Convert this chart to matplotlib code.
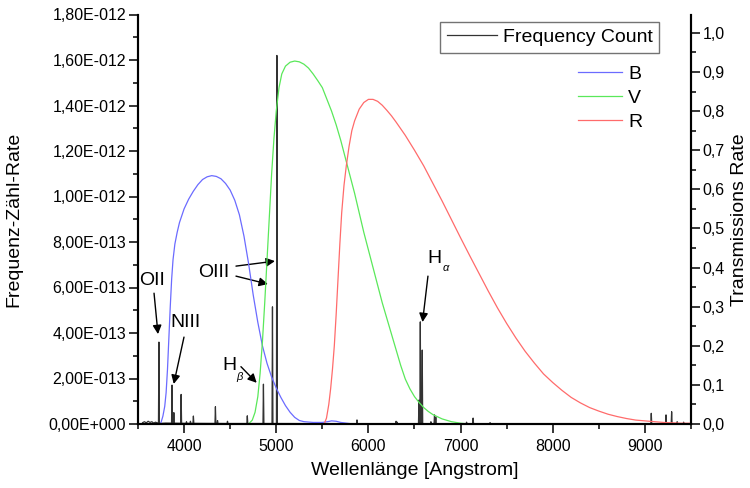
import numpy as np
import matplotlib
matplotlib.use('Agg')
import matplotlib.pyplot as plt
from matplotlib.ticker import MultipleLocator, FixedLocator, FuncFormatter

plt.rcParams['font.family'] = ['Liberation Sans', 'DejaVu Sans']

# emission lines of the spectrum (wavelength in Angstrom, peak in units of 1e-13)
line_wl = [3727, 3869, 3889, 3968, 4026, 4069, 4101, 4340, 4363, 4471, 4686,
           4861, 4959, 5007, 5876, 6300, 6312, 6548, 6563, 6584, 6678, 6717,
           6731, 7065, 7136, 7320, 9069, 9229, 9290, 9350, 9420]
line_peak = [3.6, 1.71, 0.5, 1.3, 0.1, 0.12, 0.35, 0.76, 0.15, 0.12, 0.36,
             1.75, 5.15, 16.2, 0.18, 0.12, 0.08, 1.05, 4.49, 3.25, 0.1, 0.4,
             0.3, 0.08, 0.26, 0.06, 0.47, 0.4, 0.54, 0.1, 0.08]

# continuum level between the lines (units of 1e-13)
cont_wl = [3550, 3570, 3590, 3610, 3630, 3650, 3670, 3690, 3710, 3760, 3800,
           4000, 4500, 5000, 5500, 6000, 6500, 7000, 7500, 8000, 8500, 9000, 9500]
cont_val = [0.06, 0.1, 0.05, 0.12, 0.07, 0.1, 0.04, 0.08, 0.05, 0.03, 0.04,
            0.03, 0.02, 0.02, 0.015, 0.015, 0.015, 0.01, 0.01, 0.01, 0.01, 0.01, 0.01]

# filter transmission curves
b_wl = [3745, 3770, 3790, 3805, 3820, 3835, 3850, 3865, 3880, 3900, 3925, 3950,
        4000, 4050, 4100, 4150, 4200, 4250, 4300, 4350, 4400, 4450, 4500, 4550,
        4600, 4650, 4700, 4750, 4800, 4850, 4900, 4950, 5000, 5050, 5100, 5150,
        5200, 5250, 5300, 5400, 5500, 5560, 5600, 5650, 5700, 5800, 5860]
b_t = [0.0, 0.02, 0.045, 0.08, 0.14, 0.22, 0.30, 0.37, 0.42, 0.46, 0.49, 0.515,
       0.55, 0.575, 0.595, 0.612, 0.625, 0.632, 0.635, 0.633, 0.627, 0.615, 0.598, 0.572,
       0.535, 0.48, 0.41, 0.33, 0.26, 0.20, 0.155, 0.12, 0.092, 0.068, 0.047, 0.03,
       0.017, 0.009, 0.006, 0.004, 0.004, 0.006, 0.008, 0.007, 0.004, 0.001, 0.0]

v_wl = [4700, 4740, 4770, 4800, 4825, 4850, 4875, 4900, 4925, 4950, 4975, 5000,
        5030, 5060, 5100, 5150, 5200, 5250, 5300, 5350, 5400, 5450, 5500, 5550,
        5600, 5650, 5700, 5750, 5800, 5850, 5900, 5950, 6000, 6050, 6100, 6150,
        6200, 6250, 6300, 6350, 6400, 6450, 6500, 6550, 6600, 6650, 6700, 6800,
        6900, 7000, 7100]
v_t = [0.0, 0.01, 0.03, 0.07, 0.13, 0.21, 0.31, 0.42, 0.53, 0.64, 0.73, 0.80,
       0.86, 0.895, 0.915, 0.925, 0.928, 0.926, 0.92, 0.91, 0.895, 0.878, 0.86, 0.83,
       0.80, 0.765, 0.725, 0.68, 0.635, 0.59, 0.54, 0.49, 0.445, 0.40, 0.355, 0.31,
       0.27, 0.23, 0.19, 0.15, 0.115, 0.09, 0.07, 0.055, 0.042, 0.032, 0.024, 0.013,
       0.006, 0.002, 0.0]

r_wl = [5520, 5545, 5570, 5590, 5610, 5630, 5650, 5670, 5690, 5710, 5735, 5760,
        5790, 5820, 5850, 5900, 5950, 6000, 6050, 6100, 6150, 6200, 6250, 6300,
        6400, 6500, 6600, 6700, 6800, 6900, 7000, 7100, 7200, 7300, 7400, 7500,
        7600, 7700, 7800, 7900, 8000, 8100, 8200, 8300, 8400, 8500, 8600, 8700,
        8800, 8900, 9000, 9100, 9200, 9300, 9400, 9500]
r_t = [0.0, 0.015, 0.05, 0.09, 0.14, 0.20, 0.28, 0.37, 0.46, 0.54, 0.61, 0.66,
       0.71, 0.75, 0.775, 0.805, 0.822, 0.83, 0.83, 0.825, 0.815, 0.802, 0.788, 0.772,
       0.738, 0.70, 0.66, 0.615, 0.57, 0.523, 0.476, 0.43, 0.385, 0.34, 0.297, 0.257,
       0.22, 0.186, 0.156, 0.128, 0.106, 0.086, 0.068, 0.054, 0.042, 0.033, 0.025, 0.019,
       0.014, 0.01, 0.008, 0.006, 0.004, 0.003, 0.002, 0.002]

# build the spectrum: continuum plus narrow spikes at the lines
pts = list(zip(cont_wl, cont_val))
for wl, pk in zip(line_wl, line_peak):
    base = float(np.interp(wl, cont_wl, cont_val))
    pts += [(wl - 5, base), (wl, pk), (wl + 5, base)]
pts.sort()
spec_wl = np.array([p[0] for p in pts])
spec_val = np.array([p[1] for p in pts]) * 1e-13


def sci_comma(v, pos):
    if abs(v) < 1e-20:
        return '0,00E+000'
    exp = int(np.floor(np.log10(abs(v)) + 1e-9))
    man = v / 10.0 ** exp
    sign = '-' if exp < 0 else '+'
    return f'{man:.2f}'.replace('.', ',') + f'E{sign}{abs(exp):03d}'


fig = plt.figure(figsize=(7.5, 4.88), dpi=100)
ax = fig.add_axes([138 / 750, 1 - 424 / 488, 553 / 750, 409.5 / 488])
ax2 = ax.twinx()

spec, = ax.plot(spec_wl, spec_val, color='#333333', lw=0.9, label='Frequency Count')
lb, = ax2.plot(b_wl, b_t, color='#6b6bff', lw=0.9, label='B')
lv, = ax2.plot(v_wl, v_t, color='#5ae85a', lw=0.9, label='V')
lr, = ax2.plot(r_wl, r_t, color='#ff6b6b', lw=0.9, label='R')

ax.set_xlim(3500, 9500)
ax.set_ylim(0, 1.8e-12)
ax2.set_ylim(0, 1.047)

ax.xaxis.set_major_locator(MultipleLocator(1000))
ax.xaxis.set_minor_locator(MultipleLocator(500))
ax.yaxis.set_major_locator(FixedLocator([i * 2e-13 for i in range(10)]))
ax.yaxis.set_minor_locator(FixedLocator([i * 1e-13 for i in range(19)]))
ax.yaxis.set_major_formatter(FuncFormatter(sci_comma))
ax2.yaxis.set_major_locator(FixedLocator([i / 10 for i in range(11)]))
ax2.yaxis.set_minor_locator(FixedLocator([i / 20 for i in range(22)]))
ax2.yaxis.set_major_formatter(FuncFormatter(lambda v, p: f'{v:.1f}'.replace('.', ',')))

for a in (ax, ax2):
    a.spines['top'].set_visible(False)
    for s in a.spines.values():
        s.set_linewidth(1.5)
    a.tick_params(which='major', direction='out', length=6.5, width=1.1, labelsize=11.5, pad=2)
    a.tick_params(which='minor', direction='out', length=3.6, width=1.1)
ax.tick_params(axis='x', pad=4)

ax.set_xlabel('Wellenlänge [Angstrom]', fontsize=14, labelpad=6)
ax.set_ylabel('Frequenz-Zähl-Rate', fontsize=14, labelpad=19)
ax2.set_ylabel('Transmissions Rate', fontsize=14, labelpad=4)

# line identifications
arrow = dict(arrowstyle='-|>', color='k', lw=1.0, mutation_scale=13, shrinkA=0, shrinkB=0)
ax.text(3652, 6.32e-13, 'OII', fontsize=14, ha='center', va='center')
ax.annotate('', xy=(3717, 3.95e-13), xytext=(3674, 5.75e-13), arrowprops=arrow)
ax.text(4010, 4.48e-13, 'NIII', fontsize=14, ha='center', va='center')
ax.annotate('', xy=(3888, 1.76e-13), xytext=(3999, 3.82e-13), arrowprops=arrow)
ax.text(4325, 6.67e-13, 'OIII', fontsize=14, ha='center', va='center')
ax.annotate('', xy=(4986, 7.16e-13), xytext=(4563, 6.94e-13), arrowprops=arrow)
ax.annotate('', xy=(4910, 6.15e-13), xytext=(4563, 6.50e-13), arrowprops=arrow)
ax.text(4487, 2.59e-13, 'H', fontsize=14, ha='center', va='center')
ax.text(4601, 2.06e-13, 'β', fontsize=8, style='italic', ha='center', va='center')
ax.annotate('', xy=(4788, 1.81e-13), xytext=(4617, 2.52e-13), arrowprops=arrow)
ax.text(6711, 7.29e-13, 'H', fontsize=14, ha='center', va='center')
ax.text(6841, 6.85e-13, 'α', fontsize=8, style='italic', ha='center', va='center')
ax.annotate('', xy=(6587, 4.48e-13), xytext=(6646, 6.50e-13), arrowprops=arrow)

leg1 = ax2.legend(handles=[spec], loc='upper left', fontsize=14,
                  bbox_to_anchor=(440 / 750, 1 - 21.7 / 488), bbox_transform=fig.transFigure,
                  borderaxespad=0, borderpad=0.35, handlelength=2.58, handletextpad=0.3,
                  fancybox=False, edgecolor='0.45', framealpha=1)
leg1.get_frame().set_linewidth(1.0)
ax2.add_artist(leg1)
ax2.legend(handles=[lb, lv, lr], loc='upper left', fontsize=14, frameon=False,
           bbox_to_anchor=(578 / 750, 1 - 65 / 488), bbox_transform=fig.transFigure,
           borderaxespad=0, borderpad=0, handlelength=2.27, handletextpad=0.3,
           labelspacing=0.33)

fig.savefig('out.png', dpi=100)
